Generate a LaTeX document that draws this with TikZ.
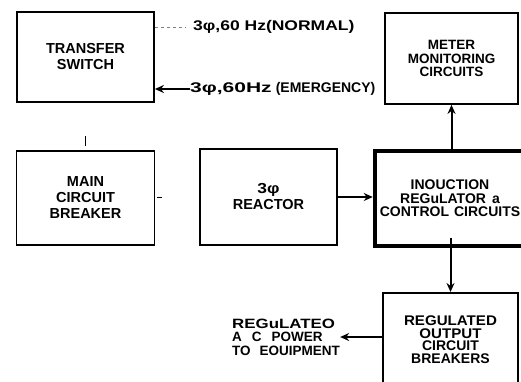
\documentclass[tikz,border=0pt]{standalone}
\usepackage{fontspec}
\setmainfont{Liberation Sans}
\usetikzlibrary{positioning,arrows.meta}

\begin{document}
\begin{tikzpicture}[
                x=1pt, y=-1pt,
                blockbox/.style={draw, line width=1.8pt, align=center, inner sep=0pt,
                                 font=\fontsize{14.5}{16}\selectfont\bfseries},
                heavybox/.style={blockbox, line width=4.5pt},
                note/.style={font=\fontsize{14}{14}\selectfont\bfseries, inner sep=0pt},
                arrow/.style={-{Stealth[length=9pt,width=8pt]}, line width=2pt}
            ]
                \useasboundingbox (0,0) rectangle (521,381);

                % upper row
                \node[blockbox, minimum width=137pt, minimum height=90pt] (xfer) at (85.5,57) {TRANSFER\\SWITCH};
                \node[blockbox, minimum width=133pt, minimum height=91pt,
                      font=\fontsize{13.5}{13.5}\selectfont\bfseries] (meter) at (451.5,58.5) {METER\\MONITORING\\CIRCUITS};

                \node[note, anchor=west] (normal) at (193,27) {\scalebox{1.25}[1]{3φ,60 Hz(NORMAL)}};
                \node[note, anchor=west] (emerg) at (190,89) {\scalebox{1.5}[1]{3φ,60Hz}\hspace{4pt}(EMERGENCY)};

                % middle row
                \node[blockbox, minimum width=138pt, minimum height=94pt, below=47pt of xfer] (main) {MAIN\\CIRCUIT\\BREAKER};
                \node[blockbox, minimum width=137pt, minimum height=96pt] (reactor) at (268.5,197) {\scalebox{1.2}[1]{3φ}\\REACTOR};
                \node[heavybox, minimum width=150pt, minimum height=95pt,
                      font=\fontsize{14}{13.5}\selectfont\bfseries] (induct) at (450,198.5)
                      {INOUCTION\\REGuLATOR\hspace{6pt}a\\CONTROL\hspace{5pt}CIRCUITS};

                % lower row
                \node[blockbox, minimum width=135pt, minimum height=94pt, anchor=north,
                      font=\fontsize{14}{12.5}\selectfont\bfseries] (output) at (450.5,292)
                      {\scalebox{1.08}[1]{REGULATED}\\\scalebox{1.08}[1]{OUTPUT}\\CIRCUIT\\BREAKERS};
                \node[note, align=left, anchor=west, font=\fontsize{13.5}{13.5}\selectfont\bfseries] (acpower) at (232,337)
                      {\scalebox{1.25}[1]{REGuLATEO}\\A\hspace{10pt}C\hspace{10pt}POWER\\TO\hspace{9pt}EOUIPMENT};

                % connectors
                \draw[dashed, thin, gray] (xfer.east |- normal) -- ([xshift=-8pt]normal.west);
                \draw[arrow] (emerg.west) -- (xfer.east |- emerg);
                \draw[arrow] (reactor.east) -- (induct.west |- reactor.east);
                \draw[arrow] (meter.south |- induct.north) -- (meter.south);
                \draw[arrow] ([yshift=10pt]output.north |- induct.south) -- (output.north);
                \draw[arrow] (output.west |- acpower) -- (acpower.east);

                % stray marks
                \draw[line width=1.5pt] ([yshift=4pt]main.north) -- ++(0,-10);
                \draw[line width=1.2pt] ([xshift=2pt]main.east) -- ++(5,0);

            \end{tikzpicture}
\end{document}
